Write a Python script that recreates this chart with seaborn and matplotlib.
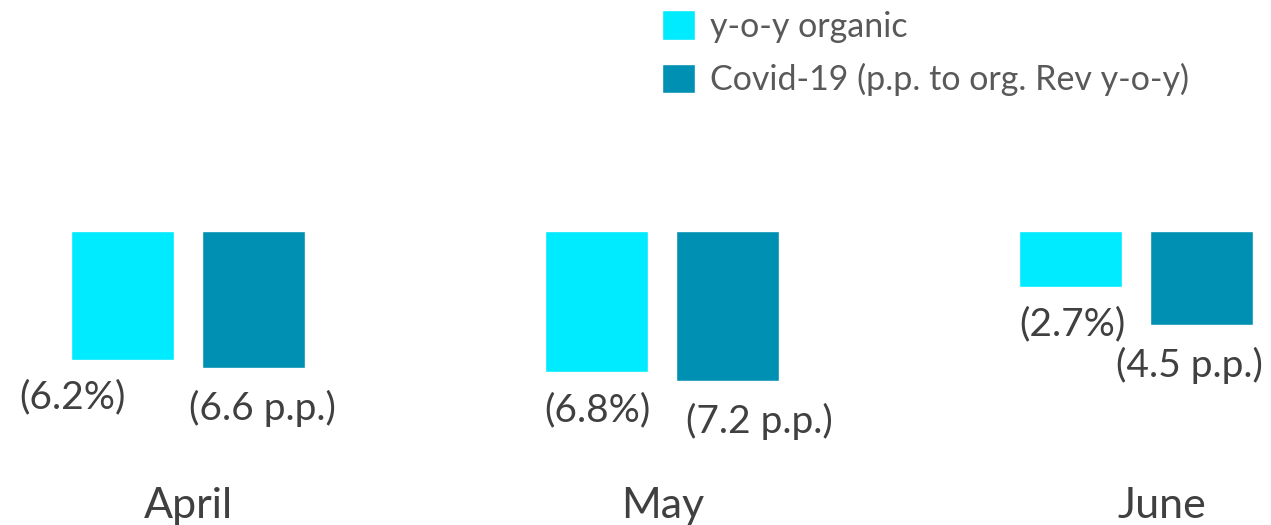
import matplotlib
matplotlib.use("Agg")
import matplotlib.pyplot as plt
import seaborn as sns
import pandas as pd

months = ["April", "May", "June"]
organic = [-6.2, -6.8, -2.7]
covid = [-6.6, -7.2, -4.5]
series_names = ["y-o-y organic", "Covid-19 (p.p. to org. Rev y-o-y)"]
organic_labels = ["(6.2%)", "(6.8%)", "(2.7%)"]
covid_labels = ["(6.6 p.p.)", "(7.2 p.p.)", "(4.5 p.p.)"]

colors = ["#00EBFF", "#0090B4"]
text_col = "#404040"
legend_col = "#595959"

df = pd.DataFrame({
    "month": months * 2,
    "series": [series_names[0]] * 3 + [series_names[1]] * 3,
    "value": organic + covid,
})

sns.set_theme(style="white")
plt.rcParams["font.family"] = ["Lato", "DejaVu Sans"]

fig = plt.figure(figsize=(12.71, 5.25), dpi=100)
ax = fig.add_axes([0, 0, 1, 1])

sns.barplot(data=df, x="month", y="value", hue="series", palette=colors,
            width=0.555, gap=0.217, errorbar=None, saturation=1, ax=ax)

# pixel scale: 474 px per category, 20.8 px per unit
px_x = 474.0
px_y = 20.8
ax.set_xlim(-188 / px_x, (1271 - 188) / px_x)
ax.set_ylim(-(525 - 231) / px_y, 231 / px_y)
ax.axis("off")

slot = 0.555 / 2
org_dx = [-50, 1, 2]
cov_dx = [9, 32, -12]
for i in range(3):
    ax.text(i - slot / 2 + org_dx[i] / px_x, organic[i] - 1.8, organic_labels[i],
            ha="center", va="center", fontsize=28, color=text_col)
    ax.text(i + slot / 2 + cov_dx[i] / px_x, covid[i] - 1.95, covid_labels[i],
            ha="center", va="center", fontsize=28, color=text_col)

cat_dx = [0, 1, 26]
for i, m in enumerate(months):
    ax.text(i + cat_dx[i] / px_x, -13.2, m, ha="center", va="center",
            fontsize=31, color=text_col)

leg = ax.legend(loc="upper left", bbox_to_anchor=(662 / 1271, 1 - 10 / 525),
                frameon=False, fontsize=24.5, handlelength=0.97, handleheight=0.97,
                handletextpad=0.44, labelspacing=0.6, borderpad=0,
                borderaxespad=0)
for t in leg.get_texts():
    t.set_color(legend_col)

fig.savefig("out.png", dpi=100)
